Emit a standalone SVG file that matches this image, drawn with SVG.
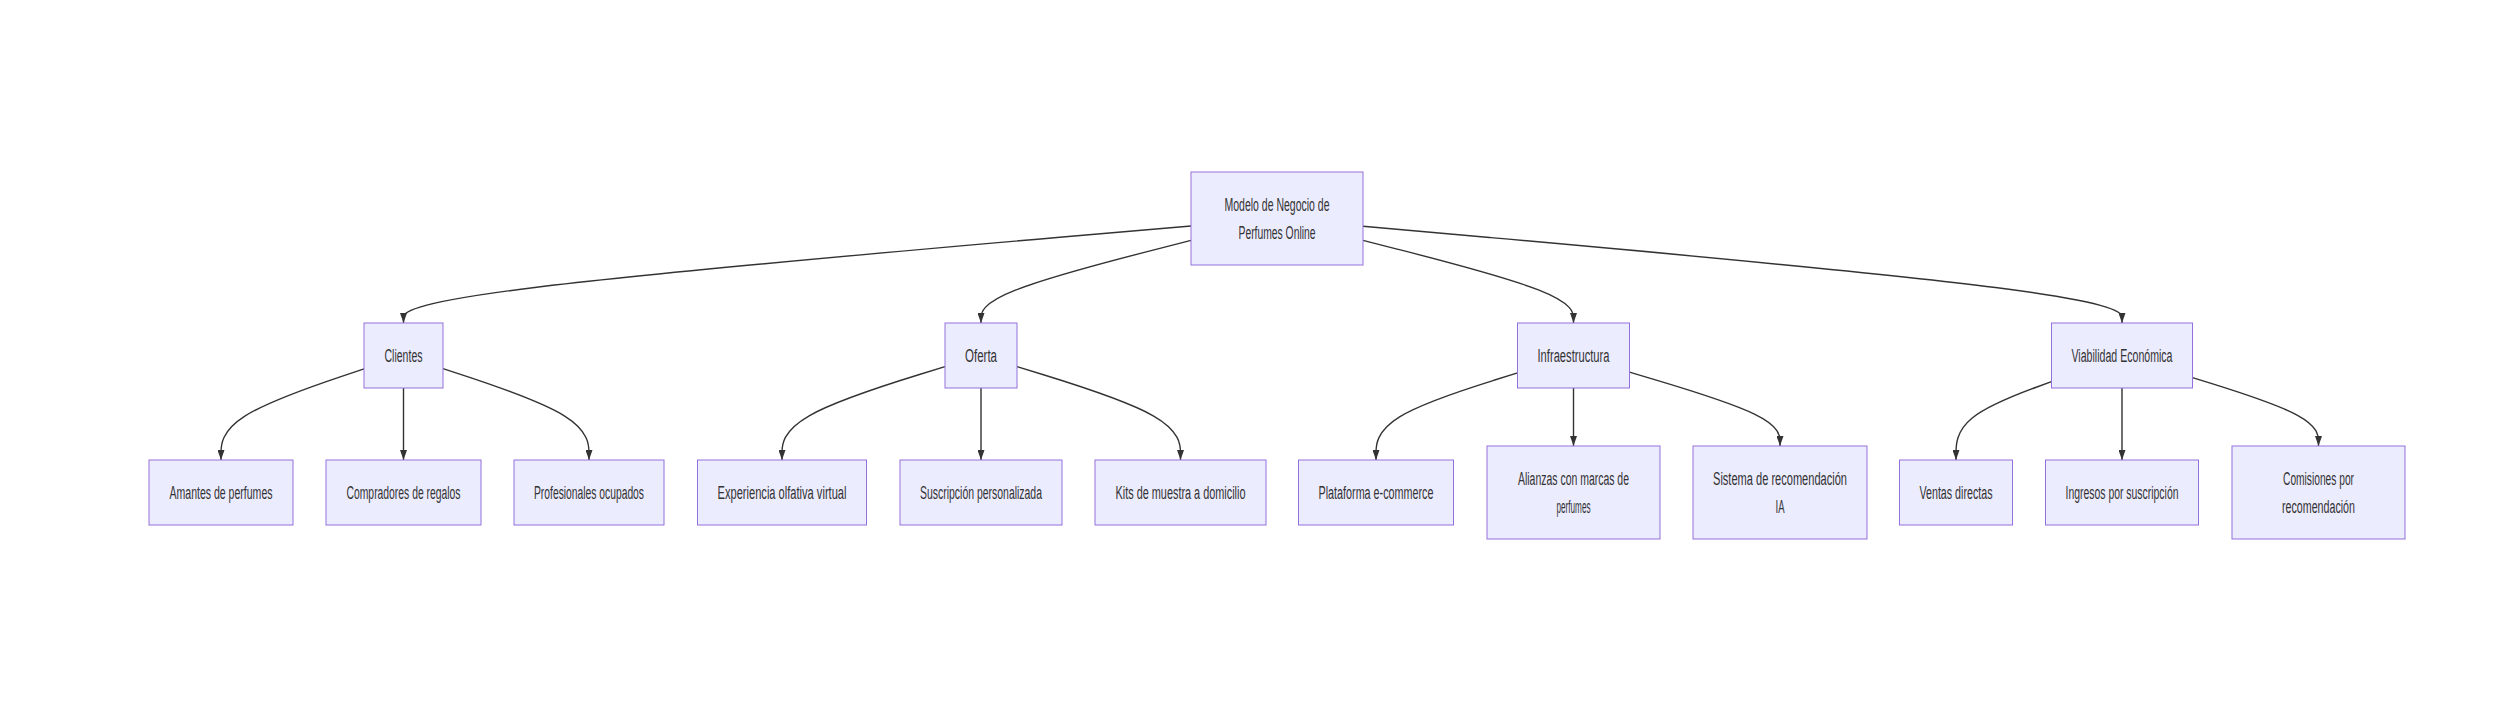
<svg xmlns="http://www.w3.org/2000/svg" width="2505" height="713" viewBox="0 0 2505 713">
<style>
  .node rect { fill: #ECECFF; stroke: #9370DB; stroke-width: 1px; }
  .node text { font-family: "Liberation Sans Narrow", "Liberation Sans", Arial, sans-serif; font-size: 18px; fill: #333333; text-anchor: middle; }
  .edge { fill: none; stroke: #333333; stroke-width: 1.4px; }
</style>
<defs>
  <marker id="arrow" viewBox="0 0 10 7" refX="10" refY="3.5" markerUnits="userSpaceOnUse" markerWidth="10" markerHeight="7" orient="auto">
    <path d="M0,0 L10,3.5 L0,7 z" fill="#333333"/>
  </marker>
</defs>
<rect x="0" y="0" width="2505" height="713" fill="#ffffff"/>
<g id="connectors">
  <path class="edge" marker-end="url(#arrow)" d="M1191,225.93 L1059.75,237.28 C928.5,248.62,666,271.31,534.75,287.49 C403.5,303.67,403.5,313.33,403.5,318.17 L403.5,323"/>
  <path class="edge" marker-end="url(#arrow)" d="M1191,240.44 L1156,249.37 C1121,258.29,1051,276.15,1016,289.91 C981,303.67,981,313.33,981,318.17 L981,323"/>
  <path class="edge" marker-end="url(#arrow)" d="M1363,240.4 L1398.08,249.33 C1433.17,258.27,1503.33,276.13,1538.42,289.9 C1573.5,303.67,1573.5,313.33,1573.5,318.17 L1573.5,323"/>
  <path class="edge" marker-end="url(#arrow)" d="M1363,226.18 L1489.5,237.48 C1616,248.79,1869,271.39,1995.5,287.53 C2122,303.67,2122,313.33,2122,318.17 L2122,323"/>
  <path class="edge" marker-end="url(#arrow)" d="M364,368.81 L340.17,376.84 C316.33,384.87,268.67,400.94,244.83,416.13 C221,431.33,221,445.67,221,452.83 L221,460"/>
  <path class="edge" marker-end="url(#arrow)" d="M403.5,388 L403.5,460"/>
  <path class="edge" marker-end="url(#arrow)" d="M443,368.6 L467.33,376.67 C491.67,384.73,540.33,400.87,564.67,416.1 C589,431.33,589,445.67,589,452.83 L589,460"/>
  <path class="edge" marker-end="url(#arrow)" d="M945,366.63 L917.83,375.03 C890.67,383.42,836.33,400.21,809.17,415.77 C782,431.33,782,445.67,782,452.83 L782,460"/>
  <path class="edge" marker-end="url(#arrow)" d="M981,388 L981,460"/>
  <path class="edge" marker-end="url(#arrow)" d="M1017,366.6 L1044.25,375 C1071.5,383.4,1126,400.2,1153.25,415.77 C1180.5,431.33,1180.5,445.67,1180.5,452.83 L1180.5,460"/>
  <path class="edge" marker-end="url(#arrow)" d="M1517.5,372.94 L1493.92,380.28 C1470.33,387.63,1423.17,402.31,1399.58,416.82 C1376,431.33,1376,445.67,1376,452.83 L1376,460"/>
  <path class="edge" marker-end="url(#arrow)" d="M1573.5,388 L1573.5,446"/>
  <path class="edge" marker-end="url(#arrow)" d="M1629.5,372.18 L1654.58,379.65 C1679.67,387.12,1729.83,402.06,1754.92,414.36 C1780,426.67,1780,436.33,1780,441.17 L1780,446"/>
  <path class="edge" marker-end="url(#arrow)" d="M2051.5,381.62 L2035.58,387.52 C2019.67,393.41,1987.83,405.21,1971.92,418.27 C1956,431.33,1956,445.67,1956,452.83 L1956,460"/>
  <path class="edge" marker-end="url(#arrow)" d="M2122,388 L2122,460"/>
  <path class="edge" marker-end="url(#arrow)" d="M2192.5,377.57 L2213.5,384.14 C2234.5,390.71,2276.5,403.86,2297.5,415.26 C2318.5,426.67,2318.5,436.33,2318.5,441.17 L2318.5,446"/>
</g>
<g id="root" class="node">
  <rect x="1191" y="172" width="172" height="93"/>
  <text x="1277" y="211" textLength="105" lengthAdjust="spacingAndGlyphs">Modelo de Negocio de</text>
  <text x="1277" y="238.5" textLength="77" lengthAdjust="spacingAndGlyphs">Perfumes Online</text>
</g>
<g id="clientes" class="node">
  <rect x="364" y="323" width="79" height="65"/>
  <text x="403.5" y="361.5" textLength="38" lengthAdjust="spacingAndGlyphs">Clientes</text>
</g>
<g id="oferta" class="node">
  <rect x="945" y="323" width="72" height="65"/>
  <text x="981" y="361.5" textLength="32" lengthAdjust="spacingAndGlyphs">Oferta</text>
</g>
<g id="infraestructura" class="node">
  <rect x="1517.5" y="323" width="112" height="65"/>
  <text x="1573.5" y="361.5" textLength="72" lengthAdjust="spacingAndGlyphs">Infraestructura</text>
</g>
<g id="viabilidad" class="node">
  <rect x="2051.5" y="323" width="141" height="65"/>
  <text x="2122" y="361.5" textLength="101" lengthAdjust="spacingAndGlyphs">Viabilidad Económica</text>
</g>
<g id="amantes" class="node">
  <rect x="149" y="460" width="144" height="65"/>
  <text x="221" y="498.5" textLength="103" lengthAdjust="spacingAndGlyphs">Amantes de perfumes</text>
</g>
<g id="compradores" class="node">
  <rect x="326" y="460" width="155" height="65"/>
  <text x="403.5" y="498.5" textLength="114" lengthAdjust="spacingAndGlyphs">Compradores de regalos</text>
</g>
<g id="profesionales" class="node">
  <rect x="514" y="460" width="150" height="65"/>
  <text x="589" y="498.5" textLength="110" lengthAdjust="spacingAndGlyphs">Profesionales ocupados</text>
</g>
<g id="experiencia" class="node">
  <rect x="697.5" y="460" width="169" height="65"/>
  <text x="782" y="498.5" textLength="129" lengthAdjust="spacingAndGlyphs">Experiencia olfativa virtual</text>
</g>
<g id="suscripcion" class="node">
  <rect x="900" y="460" width="162" height="65"/>
  <text x="981" y="498.5" textLength="122" lengthAdjust="spacingAndGlyphs">Suscripción personalizada</text>
</g>
<g id="kits" class="node">
  <rect x="1095" y="460" width="171" height="65"/>
  <text x="1180.5" y="498.5" textLength="130" lengthAdjust="spacingAndGlyphs">Kits de muestra a domicilio</text>
</g>
<g id="plataforma" class="node">
  <rect x="1298.5" y="460" width="155" height="65"/>
  <text x="1376" y="498.5" textLength="115" lengthAdjust="spacingAndGlyphs">Plataforma e-commerce</text>
</g>
<g id="alianzas" class="node">
  <rect x="1487" y="446" width="173" height="93"/>
  <text x="1573.5" y="485" textLength="111" lengthAdjust="spacingAndGlyphs">Alianzas con marcas de</text>
  <text x="1573.5" y="512.5" textLength="34" lengthAdjust="spacingAndGlyphs">perfumes</text>
</g>
<g id="sistema" class="node">
  <rect x="1693" y="446" width="174" height="93"/>
  <text x="1780" y="485" textLength="134" lengthAdjust="spacingAndGlyphs">Sistema de recomendación</text>
  <text x="1780" y="512.5" textLength="9" lengthAdjust="spacingAndGlyphs">IA</text>
</g>
<g id="ventas" class="node">
  <rect x="1899.5" y="460" width="113" height="65"/>
  <text x="1956" y="498.5" textLength="73" lengthAdjust="spacingAndGlyphs">Ventas directas</text>
</g>
<g id="ingresos" class="node">
  <rect x="2045.5" y="460" width="153" height="65"/>
  <text x="2122" y="498.5" textLength="113" lengthAdjust="spacingAndGlyphs">Ingresos por suscripción</text>
</g>
<g id="comisiones" class="node">
  <rect x="2232" y="446" width="173" height="93"/>
  <text x="2318.5" y="485" textLength="71" lengthAdjust="spacingAndGlyphs">Comisiones por</text>
  <text x="2318.5" y="512.5" textLength="73" lengthAdjust="spacingAndGlyphs">recomendación</text>
</g>
</svg>
